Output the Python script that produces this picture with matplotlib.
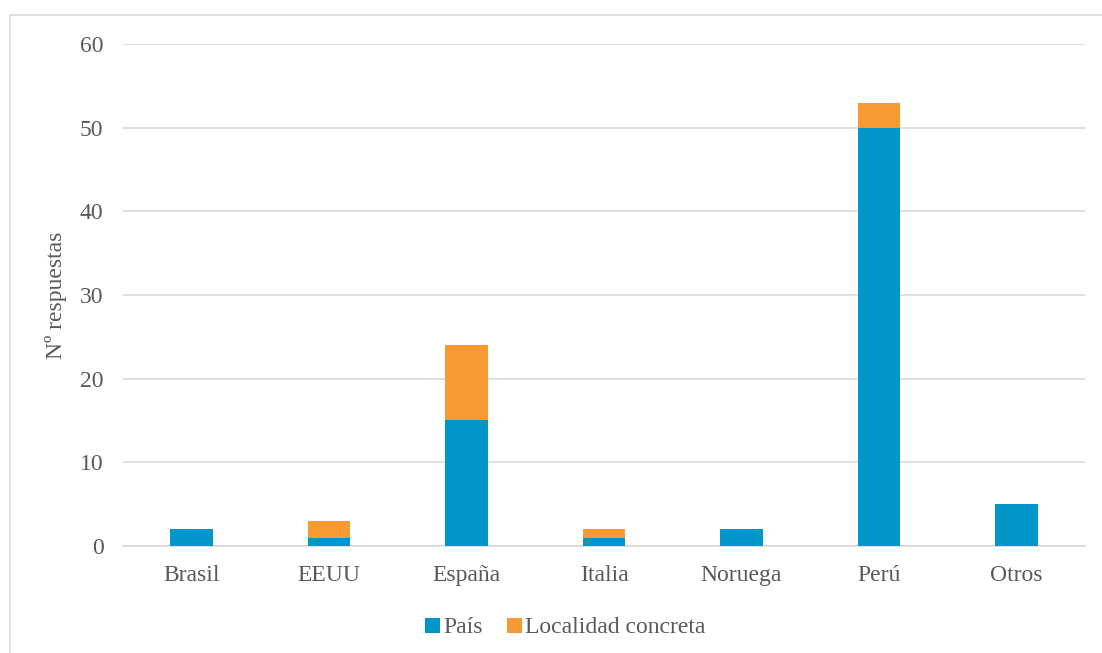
import matplotlib
matplotlib.use("Agg")
import matplotlib.pyplot as plt
from matplotlib.patches import Rectangle
import numpy as np

paises = ["Brasil", "EEUU", "España", "Italia", "Noruega", "Perú", "Otros"]
pais = [2, 1, 15, 1, 2, 50, 5]
localidad = [0, 2, 9, 1, 0, 3, 0]

plt.rcParams['font.family'] = ['Liberation Serif', 'DejaVu Serif']
gris = '#595959'

fig = plt.figure(figsize=(11.02, 6.53), dpi=100)
ax = fig.add_axes([0.1116, 0.1639, 0.8730, 0.7687])

# marco gris del grafico
fig.patches.append(Rectangle((10/1102, -0.5), 1.5, 1.5 - 15/653,
                             transform=fig.transFigure, fill=False,
                             edgecolor='#d9d9d9', linewidth=1.2))

x = np.arange(len(paises))
ax.bar(x, pais, width=0.31, color='#0096C8', label='País', zorder=3)
ax.bar(x, localidad, width=0.31, bottom=pais, color='#F79A33',
       label='Localidad concreta', zorder=3)

ax.set_xlim(-0.5, len(paises) - 0.5)
ax.set_ylim(0, 60)
ax.set_yticks(range(0, 61, 10))
ax.set_xticks(x)
ax.set_xticklabels(paises)
ax.grid(axis='y', color='#d9d9d9', linewidth=1.2, zorder=0)
for s in ['top', 'right', 'left']:
    ax.spines[s].set_visible(False)
ax.spines['bottom'].set_color('#d9d9d9')
ax.spines['bottom'].set_linewidth(1.2)
ax.tick_params(axis='both', length=0, labelsize=17, labelcolor=gris)
ax.tick_params(axis='x', pad=14)
ax.tick_params(axis='y', pad=14)
ax.set_ylabel('Nº respuestas', fontsize=17, color=gris)
ax.yaxis.set_label_coords(-0.058, 0.5)

ax.legend(loc='upper center', bbox_to_anchor=(0.46, -0.10), ncol=2,
          frameon=False, fontsize=17, labelcolor=gris, handlelength=0.6,
          handleheight=0.6, handletextpad=0.15, columnspacing=1.05)

fig.savefig('out.png', dpi=100)
